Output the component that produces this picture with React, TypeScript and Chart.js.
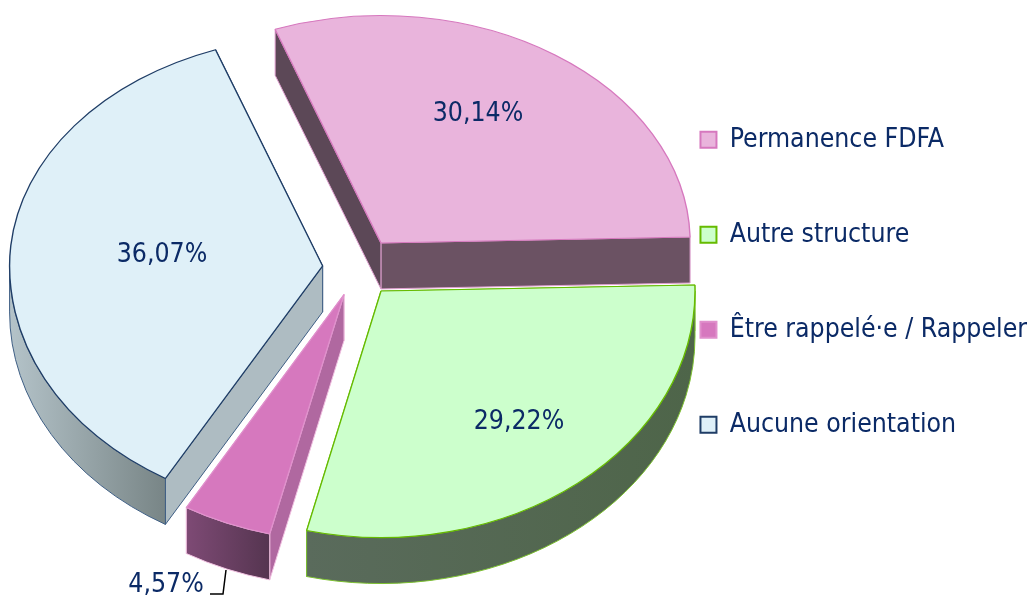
import React, { useEffect, useRef } from "react";
import { Chart, registerables } from "chart.js";

Chart.register(...registerables);

const categories = ["Permanence FDFA", "Autre structure", "Être rappelé·e / Rappeler", "Aucune orientation"];
const shares = [30.14, 29.22, 4.57, 36.07];
const fills = ["#E9B4DC", "#CCFFCC", "#D678BE", "#DFF0F8"];
const borders = ["#D678BE", "#66BB00", "#E090CC", "#1F3D66"];
const explode = [41.6, 37.4, 36, 35];
const radiusScale = [0.985, 1, 1, 0.997];
const startWalls = ["#5C4857", "#5a6e5a", "#B068A0", "#AEBCC2"];
const endWalls = ["#6B5263", "#5a6e5a", "#B068A0", "#AEBCC2"];
const rimLeft = ["#6B5263", "#5A6B5C", "#7E4A75", "#B4C3C9"];
const rimRight = ["#6B5263", "#4E6549", "#553550", "#788586"];
const wallBorders = ["#E0A0D0", "#7CC030", "#F0C0E0", "#3F5F85"];
const labelPositions = [[478, 114], [519, 422], [166, 585], [162, 255]];

const PIE_X = 357.5;
const PIE_Y = 268.2;
const RADIUS = 314;
const K_UP = 0.735;
const K_DOWN = 0.785;
const DEPTH = 46;
const INK = "#0B2A66";
const FONT = '"DejaVu Sans Condensed", "DejaVu Sans", sans-serif';
const FONT_SIZE = 26.4;

const pie3d = {
  id: "pie3d",
  beforeDatasetDraw(chart: any) {
    const ctx = chart.ctx as CanvasRenderingContext2D;
    const arcs = chart.getDatasetMeta(0).data;
    const order = [0, 3, 1, 2];
    order.forEach((i) => {
      const arc = arcs[i];
      const a = arc.startAngle;
      const b = arc.endAngle;
      const s = radiusScale[i];
      const r = arc.outerRadius * s;
      const mid = (a + b) / 2;
      const kOf = (t: number) => (Math.sin(t) < 0 ? K_UP : K_DOWN);
      const ax = PIE_X + explode[i] * Math.cos(mid);
      const ay = PIE_Y + explode[i] * Math.sin(mid) * kOf(mid);
      const pt = (t: number) => [ax + r * Math.cos(t), ay + r * Math.sin(t) * kOf(t)];

      ctx.save();
      ctx.lineWidth = 1;
      ctx.strokeStyle = wallBorders[i];
      const wall = (t: number, color: string) => {
        const [x, y] = pt(t);
        ctx.beginPath();
        ctx.moveTo(ax, ay);
        ctx.lineTo(x, y);
        ctx.lineTo(x, y + DEPTH);
        ctx.lineTo(ax, ay + DEPTH);
        ctx.closePath();
        ctx.fillStyle = color;
        ctx.fill();
        ctx.stroke();
      };
      wall(b, endWalls[i]);
      wall(a, startWalls[i]);

      const from = Math.max(a, 0);
      const to = Math.min(b, Math.PI);
      if (to > from) {
        const grad = ctx.createLinearGradient(ax + r * Math.cos(to), 0, ax + r * Math.cos(from), 0);
        grad.addColorStop(0, rimLeft[i]);
        grad.addColorStop(1, rimRight[i]);
        ctx.beginPath();
        ctx.ellipse(ax, ay, r, r * K_DOWN, 0, from, to);
        ctx.ellipse(ax, ay + DEPTH, r, r * K_DOWN, 0, to, from, true);
        ctx.closePath();
        ctx.fillStyle = grad;
        ctx.fill();
        ctx.stroke();
      }
      ctx.restore();

      const seam = Math.round(ay);
      [[0, seam, K_UP], [seam, 600 - seam, K_DOWN]].forEach(([top, h, k]) => {
        ctx.save();
        ctx.beginPath();
        ctx.rect(0, top, 1030, h);
        ctx.clip();
        ctx.translate(ax, ay);
        ctx.scale(s, k * s);
        ctx.translate(-arc.x, -arc.y);
        arc.draw(ctx);
        ctx.restore();
      });
    });

    ctx.save();
    ctx.fillStyle = INK;
    ctx.font = `${FONT_SIZE}px ${FONT}`;
    ctx.textAlign = "center";
    ctx.textBaseline = "middle";
    shares.forEach((v, i) => {
      const [x, y] = labelPositions[i];
      ctx.fillText(`${v.toFixed(2).replace(".", ",")}%`, x, y);
    });
    ctx.strokeStyle = "#000000";
    ctx.lineWidth = 1.5;
    ctx.beginPath();
    ctx.moveTo(210, 594);
    ctx.lineTo(223, 594);
    ctx.lineTo(226, 570);
    ctx.stroke();
    ctx.restore();
    return false;
  },
};

export default function App() {
  const ref = useRef<HTMLCanvasElement>(null);
  useEffect(() => {
    document.body.style.margin = "0";
    const chart = new Chart(ref.current as HTMLCanvasElement, {
      type: "pie",
      data: {
        labels: categories,
        datasets: [{
          data: shares,
          backgroundColor: fills,
          borderColor: borders,
          borderWidth: 1.4,
        }],
      },
      options: {
        responsive: false,
        animation: false,
        rotation: -20,
        radius: RADIUS,
        layout: { padding: { top: 58, right: -7 } },
        plugins: {
          tooltip: { enabled: false },
          legend: {
            position: "right",
            align: "start",
            labels: {
              boxWidth: 16,
              boxHeight: 16,
              padding: 68.6,
              color: INK,
              font: { family: FONT, size: FONT_SIZE },
              generateLabels(c: any) {
                return Chart.overrides.pie.plugins.legend.labels
                  .generateLabels(c)
                  .map((item: any) => ({ ...item, lineWidth: 2 }));
              },
            },
          },
        },
      },
      plugins: [pie3d],
    } as any);
    return () => chart.destroy();
  }, []);
  return (
    <div style={{ width: 1030, height: 600, background: "#ffffff" }}>
      <canvas ref={ref} width={1030} height={600} style={{ display: "block" }} />
    </div>
  );
}
